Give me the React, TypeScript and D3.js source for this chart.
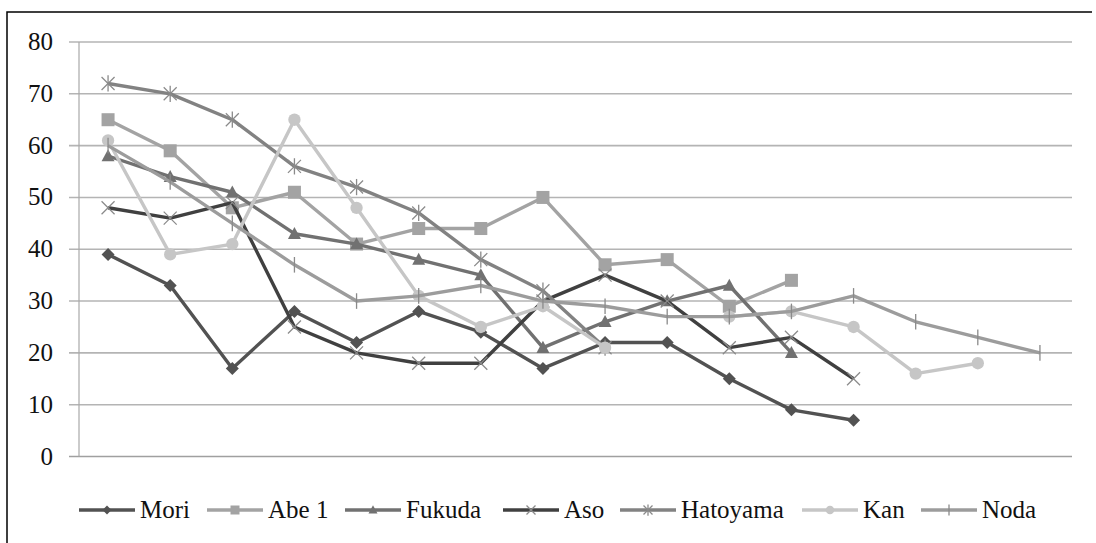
import React, { useEffect, useRef } from "react";
import { select, scaleBand, scaleLinear, line, range } from "d3";

const categories: string[] = range(1, 17).map((d) => String(d));
const yTicks: number[] = [0, 10, 20, 30, 40, 50, 60, 70, 80];

const mori: (number | null)[] = [39, 33, 17, 28, 22, 28, 24, 17, 22, 22, 15, 9, 7];
const abe1: (number | null)[] = [65, 59, 48, 51, 41, 44, 44, 50, 37, 38, 29, 34];
const fukuda: (number | null)[] = [58, 54, 51, 43, 41, 38, 35, 21, 26, 30, 33, 20];
const aso: (number | null)[] = [48, 46, 49, 25, 20, 18, 18, 30, 35, 30, 21, 23, 15];
const hatoyama: (number | null)[] = [72, 70, 65, 56, 52, 47, 38, 32, 21];
const kan: (number | null)[] = [61, 39, 41, 65, 48, 31, 25, 29, 21, null, 27, 28, 25, 16, 18];
const noda: (number | null)[] = [60, 53, 45, 37, 30, 31, 33, 30, 29, 27, 27, 28, 31, 26, 23, 20];

const seriesNames = ["Mori", "Abe 1", "Fukuda", "Aso", "Hatoyama", "Kan", "Noda"];
const seriesValues = [mori, abe1, fukuda, aso, hatoyama, kan, noda];
const seriesColors = ["#525252", "#a3a3a3", "#717171", "#404040", "#828282", "#c6c6c6", "#9c9c9c"];
const seriesMarkers = ["diamond", "square", "triangle", "x", "star", "circle", "plus"];
const legendX = [79, 207, 345, 503, 620, 802, 921];

const W = 1096;
const H = 543;
const FONT = "'Liberation Serif', 'Times New Roman', Times, 'DejaVu Serif', serif";

function drawMarker(g: any, kind: string, cx: number, cy: number, color: string, s: number) {
  const h = s / 2;
  if (kind === "diamond") {
    g.append("path")
      .attr("d", `M${cx},${cy - h}L${cx + h},${cy}L${cx},${cy + h}L${cx - h},${cy}Z`)
      .attr("fill", color);
  } else if (kind === "square") {
    g.append("rect")
      .attr("x", cx - h).attr("y", cy - h)
      .attr("width", 2 * h).attr("height", 2 * h)
      .attr("fill", color);
  } else if (kind === "triangle") {
    g.append("path")
      .attr("d", `M${cx},${cy - h * 1.05}L${cx + h},${cy + h * 0.8}L${cx - h},${cy + h * 0.8}Z`)
      .attr("fill", color);
  } else if (kind === "circle") {
    g.append("circle").attr("cx", cx).attr("cy", cy).attr("r", h * 0.95).attr("fill", color);
  } else {
    const r = h;
    const segs: number[][] = [];
    if (kind === "x" || kind === "star") {
      segs.push([-r, -r, r, r], [-r, r, r, -r]);
    }
    if (kind === "star") segs.push([0, -r * 1.25, 0, r * 1.25]);
    if (kind === "plus") segs.push([0, -r * 1.2, 0, r * 1.2]);
    segs.forEach(([x1, y1, x2, y2]) =>
      g.append("line")
        .attr("x1", cx + x1).attr("y1", cy + y1)
        .attr("x2", cx + x2).attr("y2", cy + y2)
        .attr("stroke", "#8a8a8a")
        .attr("stroke-width", 1.3)
    );
  }
}

function App() {
  const svgRef = useRef<SVGSVGElement>(null);

  useEffect(() => {
    select(svgRef.current).selectAll("*").remove();
    const svg = select(svgRef.current);

    const x = scaleBand<string>().domain(categories).range([77, 1071]);
    const y = scaleLinear().domain([0, 80]).range([456.5, 42]);
    const cx = (i: number) => (x(categories[i]) as number) + x.bandwidth() / 2;

    // outer frame (only top and left edges are in view)
    svg.append("path")
      .attr("d", `M7,543 L7,12 L1092,12`)
      .attr("fill", "none")
      .attr("stroke", "#000")
      .attr("stroke-width", 1.5);

    // gridlines
    svg.append("g")
      .selectAll("line")
      .data(yTicks)
      .join("line")
      .attr("x1", 69)
      .attr("x2", 1072)
      .attr("y1", (d) => y(d))
      .attr("y2", (d) => y(d))
      .attr("stroke", (d) => (d === 0 ? "#a0a0a0" : "#b4b4b4"))
      .attr("stroke-width", 1.6);

    svg.append("line")
      .attr("x1", 79).attr("x2", 79)
      .attr("y1", y(80)).attr("y2", y(0))
      .attr("stroke", "#a8a8a8")
      .attr("stroke-width", 1.2);

    svg.append("g")
      .selectAll("text")
      .data(yTicks)
      .join("text")
      .attr("x", 53)
      .attr("y", (d) => y(d) + 8)
      .attr("text-anchor", "end")
      .style("font-family", FONT)
      .style("font-size", "25px")
      .attr("fill", "#111")
      .text((d) => d);

    // series
    seriesValues.forEach((vals, si) => {
      const g = svg.append("g");
      const path = line<number | null>()
        .defined((d) => d !== null)
        .x((_, i) => cx(i))
        .y((d) => y(d as number));
      g.append("path")
        .datum(vals)
        .attr("fill", "none")
        .attr("stroke", seriesColors[si])
        .attr("stroke-width", 3.4)
        .attr("stroke-linejoin", "round")
        .attr("d", path);
      vals.forEach((v, i) => {
        if (v === null) return;
        drawMarker(g, seriesMarkers[si], cx(i), y(v), seriesColors[si], 13);
      });
    });

    // legend
    const lg = svg.append("g");
    seriesNames.forEach((name, si) => {
      const lx = legendX[si];
      lg.append("line")
        .attr("x1", lx).attr("x2", lx + 56)
        .attr("y1", 510).attr("y2", 510)
        .attr("stroke", seriesColors[si])
        .attr("stroke-width", 3.4);
      drawMarker(lg, seriesMarkers[si], lx + 28, 510, seriesColors[si], 9);
      lg.append("text")
        .attr("x", lx + 61)
        .attr("y", 518)
        .style("font-family", FONT)
        .style("font-size", "25px")
        .attr("fill", "#111")
        .text(name);
    });
  }, []);

  return (
    <svg
      ref={svgRef}
      width={W}
      height={H}
      style={{ position: "absolute", left: 0, top: 0, background: "#fff" }}
    ></svg>
  );
}

export default App;
